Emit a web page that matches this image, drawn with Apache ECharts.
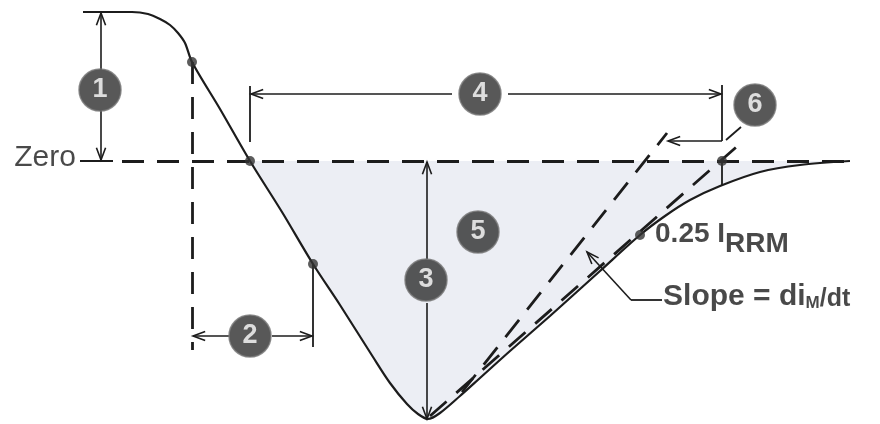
<!DOCTYPE html>
<html lang="en">
<head>
<meta charset="utf-8">
<title>Reverse recovery waveform</title>
<script src="https://cdn.jsdelivr.net/npm/echarts@6/dist/echarts.min.js"></script>
<style>
    html, body { margin: 0; height: 100%; background: #fff; }
    #chart { width: 880px; height: 424px; }
</style>
</head>
<body>
<div id="chart"></div>
<script>
    // recovery current waveform: time and current (0 = zero line, negative = reverse)
    const timeValues = [83, 132, 148, 160, 170, 178, 185, 192, 220, 250, 282, 313, 340, 373, 390, 407, 418, 428,
        440, 460, 480, 510, 550, 600, 640, 665, 690, 720, 760, 800, 850];
    const currentValues = [149, 149, 147, 142, 136, 128, 118, 99, 52, 0, -51, -103, -144, -196, -222, -243, -253, -258,
        -252, -235, -217, -190, -155, -110, -74, -55, -39, -25, -11, -4, 0];

    // marked points on the waveform
    const dotPoints = [[192, 99], [250, 0], [313, -103], [640, -74], [722, 0]];

    // construction lines [t1, i1, t2, i2]
    const dashedSegments = [
        [122, 0, 850, 0],
        [192, 99, 192, -189],
        [430, -255, 742, 19],
        [462, -231, 667, 28]
    ];
    const solidSegments = [
        [80, 0, 113, 0],
        [250, 75, 250, 19],
        [722, 76, 722, 20],
        [722, 0, 722, -24],
        [313, -103, 313, -186],
        [741, 34, 726, 21],
        [662, -139, 631, -139]
    ];
    const arrowSegments = [
        [101, 91, 101, 148],
        [101, 51, 101, 1],
        [452, 67, 251, 67],
        [508, 67, 721, 67],
        [427, -98, 427, -1],
        [427, -142, 427, -258],
        [229, -175, 193, -175],
        [272, -175, 312, -175],
        [722, 20, 668, 20],
        [631, -139, 587, -91]
    ];

    // numbered callouts
    const calloutNames = ["1", "2", "3", "4", "5", "6"];
    const calloutTimes = [100, 250, 426, 480, 478, 755];
    const calloutCurrents = [71, -175, -119, 67, -71, 56];

    const FONT = "'Liberation Sans', Arial, sans-serif";
    const INK = "#1c1c1c";

    const chart = echarts.init(document.getElementById("chart"));

    const curveData = timeValues.map((t, i) => [t, currentValues[i]]);
    const startShade = timeValues.indexOf(250);
    const shadeData = curveData.slice(startShade);

    function toLines(list) {
        return list.map(s => ({coords: [[s[0], s[1]], [s[2], s[3]]]}));
    }

    function renderArrow(params, api) {
        const p1 = api.coord([api.value(0), api.value(1)]);
        const p2 = api.coord([api.value(2), api.value(3)]);
        const ang = Math.atan2(p2[1] - p1[1], p2[0] - p1[0]);
        const len = 13, spread = 0.36;
        const a1 = [p2[0] - len * Math.cos(ang - spread), p2[1] - len * Math.sin(ang - spread)];
        const a2 = [p2[0] - len * Math.cos(ang + spread), p2[1] - len * Math.sin(ang + spread)];
        return {
            type: "group",
            children: [
                {type: "line", shape: {x1: p1[0], y1: p1[1], x2: p2[0], y2: p2[1]},
                    style: {stroke: INK, lineWidth: 1.6}},
                {type: "polyline", shape: {points: [a1, p2, a2]},
                    style: {stroke: INK, lineWidth: 1.6, fill: null}}
            ]
        };
    }

    const option = {
        animation: false,
        backgroundColor: "#fff",
        grid: {left: 0, right: 0, top: 0, bottom: 0},
        xAxis: {type: "value", min: 0, max: 880, show: false},
        yAxis: {type: "value", min: -263, max: 161, show: false},
        series: [
            {
                name: "area",
                type: "line",
                data: shadeData,
                smooth: 0.3,
                symbol: "none",
                lineStyle: {width: 0},
                areaStyle: {color: "#eceef4", opacity: 1},
                z: 1
            },
            {
                name: "dashed",
                type: "lines",
                coordinateSystem: "cartesian2d",
                data: toLines(dashedSegments),
                lineStyle: {color: INK, width: 2.8, type: [22, 13], opacity: 1},
                z: 2
            },
            {
                name: "solid",
                type: "lines",
                coordinateSystem: "cartesian2d",
                data: toLines(solidSegments),
                lineStyle: {color: INK, width: 1.8, type: "solid", opacity: 1},
                z: 3
            },
            {
                name: "arrows",
                type: "custom",
                renderItem: renderArrow,
                data: arrowSegments,
                z: 3
            },
            {
                name: "current",
                type: "line",
                data: curveData,
                smooth: 0.3,
                symbol: "none",
                lineStyle: {color: INK, width: 2.2},
                z: 4
            },
            {
                name: "dots",
                type: "scatter",
                data: dotPoints,
                symbolSize: 10,
                itemStyle: {color: "#333"},
                z: 5
            },
            {
                name: "callouts",
                type: "scatter",
                data: calloutNames.map((n, i) => ({name: n, value: [calloutTimes[i], calloutCurrents[i]]})),
                symbolSize: 42,
                itemStyle: {color: "#2e2e2e", borderColor: "#777", borderWidth: 1.5},
                label: {
                    show: true,
                    position: "inside",
                    formatter: "{b}",
                    color: "#fff",
                    fontFamily: FONT,
                    fontWeight: "bold",
                    fontSize: 27
                },
                z: 6
            },
            {
                name: "texts",
                type: "scatter",
                symbolSize: 0.1,
                itemStyle: {color: "rgba(0,0,0,0)"},
                z: 7,
                data: [
                    {
                        value: [78, 3],
                        label: {
                            show: true, position: "left", distance: 2,
                            formatter: "Zero", fontFamily: FONT, fontSize: 30, color: INK
                        }
                    },
                    {
                        value: [655, -78],
                        label: {
                            show: true, position: "right", distance: 0,
                            formatter: "{a|0.25 I}{s|RRM}",
                            rich: {
                                a: {fontFamily: FONT, fontWeight: "bold", fontSize: 28, color: INK, verticalAlign: "top"},
                                s: {fontFamily: FONT, fontWeight: "bold", fontSize: 28, color: INK, verticalAlign: "top",
                                    padding: [10, 0, 0, 0]}
                            }
                        }
                    },
                    {
                        value: [663, -136],
                        label: {
                            show: true, position: "right", distance: 0,
                            formatter: "{a|Slope = di}{s|M}{b|/dt}",
                            rich: {
                                a: {fontFamily: FONT, fontWeight: "bold", fontSize: 30, color: INK, verticalAlign: "bottom"},
                                s: {fontFamily: FONT, fontWeight: "bold", fontSize: 17, color: INK, verticalAlign: "bottom"},
                                b: {fontFamily: FONT, fontWeight: "bold", fontSize: 25, color: INK, verticalAlign: "bottom"}
                            }
                        }
                    }
                ]
            }
        ]
    };
    chart.setOption(option);
</script>
</body>
</html>
